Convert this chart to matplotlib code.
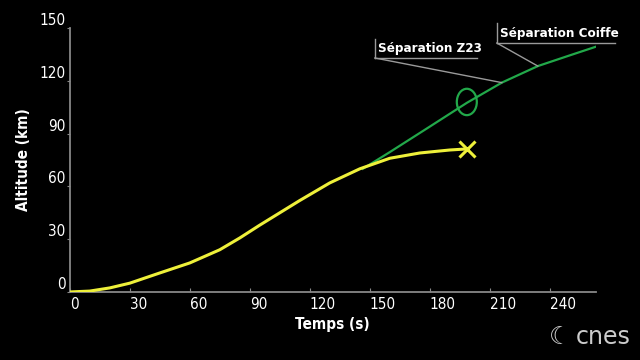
import numpy as np
import matplotlib.pyplot as plt
from matplotlib.patches import Ellipse

# trajectoire nominale (jaune) et trajectoire lanceur (vert)
t_yellow = [0, 10, 20, 30, 45, 60, 75, 85, 95, 100, 115, 130, 145, 160, 175, 190, 198.5]
alt_yellow = [0, 0.5, 2.3, 5, 10.8, 16.5, 24, 30.7, 38, 41.5, 52, 62, 70, 76, 79, 80.7, 81.3]

t_green = [146.5, 160, 180, 198.5, 216, 234, 250, 263]
alt_green = [70, 79.5, 94, 107.5, 119, 128.4, 134.5, 139.4]

cross_pt = (198.5, 81.3)
circle_pt = (198.5, 108)

x_ticks = [0, 30, 60, 90, 120, 150, 180, 210, 240]
y_ticks = [0, 30, 60, 90, 120, 150]

# annotations: (label, point on curve, bracket corner, underline end, bracket top)
labels = [
    ("Séparation Z23", (216, 119), (152.5, 133), 203.5, 144),
    ("Séparation Coiffe", (234, 128.4), (213.5, 141.5), 272.5, 153),
]

plt.rcParams['font.family'] = ['DejaVu Sans']

fig = plt.figure(figsize=(6.4, 3.6), dpi=100, facecolor='black')
ax = fig.add_axes([0.109, 0.189, 0.822, 0.733])
ax.set_facecolor('black')

ax.plot(t_green, alt_green, color='#22a84a', linewidth=1.6, zorder=2)
ax.plot(t_yellow, alt_yellow, color='#eef03a', linewidth=2.2, zorder=3,
        solid_joinstyle='round')
ax.plot(*cross_pt, marker='x', color='#eef03a', markersize=11, markeredgewidth=2.2, zorder=4)
ax.add_patch(Ellipse(circle_pt, width=10, height=15, fill=False,
                     edgecolor='#22a84a', linewidth=1.6, zorder=4))

for txt, pt, corner, uend, top in labels:
    gx, gy = corner
    ax.plot([gx, pt[0]], [gy, pt[1]], color='#9a9a9a', linewidth=1, clip_on=False)
    ax.plot([gx, uend], [gy, gy], color='#9a9a9a', linewidth=1, clip_on=False)
    ax.plot([gx, gx], [gy, top], color='#9a9a9a', linewidth=1, clip_on=False)
    ax.text(gx + 1.5, gy + 1.6, txt, color='white', fontsize=9.6, fontweight='bold',
            fontstretch='condensed', ha='left', va='bottom', clip_on=False)

ax.set_xlim(0, 263)
ax.set_ylim(0, 150)
ax.set_xticks(x_ticks)
ax.set_yticks(y_ticks)
for lab in ax.get_xticklabels():
    lab.set_horizontalalignment('left')
    lab.set_fontstretch('condensed')
for lab in ax.get_yticklabels():
    lab.set_verticalalignment('bottom')
    lab.set_fontstretch('condensed')

ax.tick_params(axis='x', colors='#888888', labelcolor='white', labelsize=11,
               length=3, direction='in')
ax.tick_params(axis='y', colors='#888888', labelcolor='white', labelsize=11,
               length=2, direction='out', pad=1)
for side in ['top', 'right']:
    ax.spines[side].set_visible(False)
for side in ['left', 'bottom']:
    ax.spines[side].set_color('#888888')
    ax.spines[side].set_linewidth(1.3)

ax.set_xlabel('Temps (s)', color='white', fontsize=11, fontweight='bold',
              fontstretch='condensed', labelpad=4)
ax.set_ylabel('Altitude (km)', color='white', fontsize=11, fontweight='bold',
              fontstretch='condensed', labelpad=6)

fig.text(0.893, 0.065, '\u263e', color='#cccccc', fontsize=18, fontweight='bold',
         ha='right', va='center')
fig.text(0.985, 0.065, 'cnes', color='#cccccc', fontsize=17, ha='right', va='center')

fig.savefig('out.png', facecolor='black')
